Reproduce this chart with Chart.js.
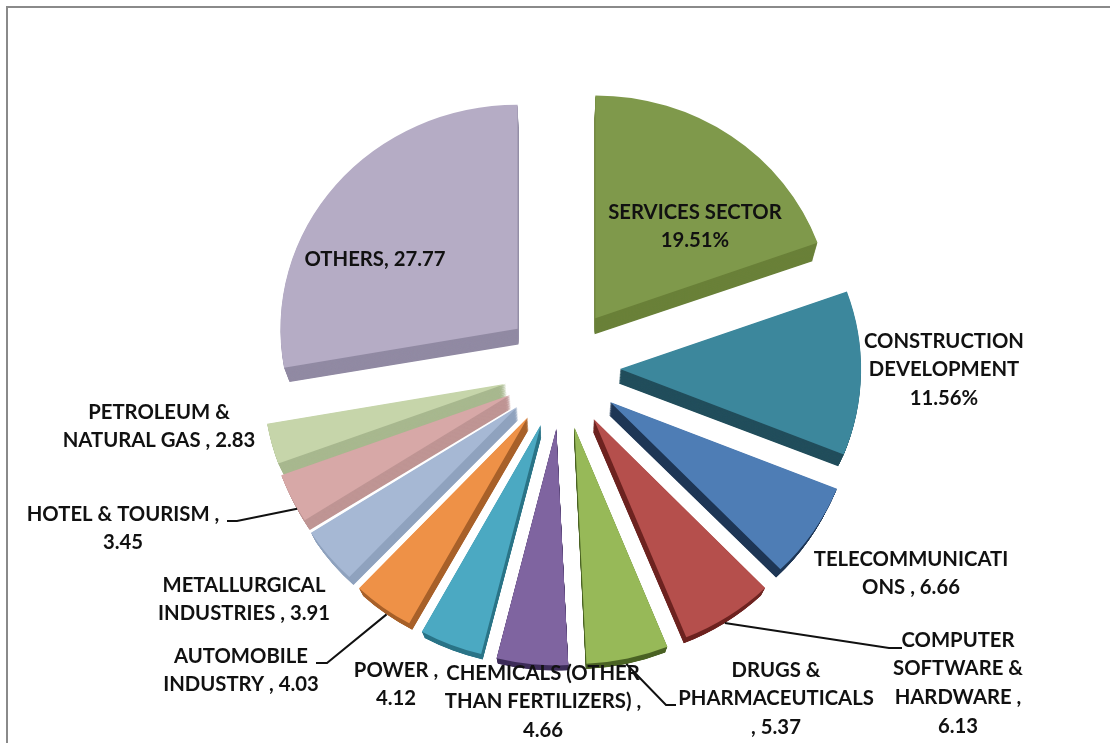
<!DOCTYPE html>
<html>
<head>
  <title>FDI sector shares</title>
  <script src="https://cdnjs.cloudflare.com/ajax/libs/Chart.js/4.4.0/chart.umd.js"></script>
  <style>
    body { margin: 0; background: #fff; overflow: hidden; }
    #frame { position: absolute; left: 6px; top: 6px; width: 1200px; height: 900px; border-left: 2px solid #8a8a8a; border-top: 2px solid #8a8a8a; }
    canvas { position: absolute; left: 0; top: 0; }
  </style>
</head>
<body>
  <div id="frame"></div>
  <canvas id="pie" width="1110" height="743"></canvas>
  <script>
    var sectors = ['SERVICES SECTOR', 'CONSTRUCTION DEVELOPMENT', 'TELECOMMUNICATIONS', 'COMPUTER SOFTWARE & HARDWARE',
      'DRUGS & PHARMACEUTICALS', 'CHEMICALS (OTHER THAN FERTILIZERS)', 'POWER', 'AUTOMOBILE INDUSTRY',
      'METALLURGICAL INDUSTRIES', 'HOTEL & TOURISM', 'PETROLEUM & NATURAL GAS', 'OTHERS'];
    var shares = [19.51, 11.56, 6.66, 6.13, 5.37, 4.66, 4.12, 4.03, 3.91, 3.45, 2.83, 27.77];
    var faceColors = ['#7f994b', '#3c879c', '#4e7db5', '#b54f4c', '#97b958', '#7f64a0', '#4ba9c2', '#ee9147', '#a6b8d4', '#d7a8a7', '#c6d5aa', '#b5acc5'];
    var sideColors = ['#6a8039', '#224e5c', '#1e3655', '#6e2421', '#4c6426', '#3e2e5a', '#2c7588', '#a8612a', '#8fa2be', '#bf9594', '#a8b88f', '#918aa3'];
    var labelLines = [
      ['SERVICES SECTOR', '19.51%'],
      ['CONSTRUCTION', 'DEVELOPMENT', '11.56%'],
      ['TELECOMMUNICATI', 'ONS , 6.66'],
      ['COMPUTER', 'SOFTWARE &', 'HARDWARE ,', '6.13'],
      ['DRUGS &', 'PHARMACEUTICALS', ', 5.37'],
      ['CHEMICALS (OTHER', 'THAN FERTILIZERS) ,', '4.66'],
      ['POWER ,', '4.12'],
      ['AUTOMOBILE', 'INDUSTRY , 4.03'],
      ['METALLURGICAL', 'INDUSTRIES , 3.91'],
      ['HOTEL & TOURISM ,', '3.45'],
      ['PETROLEUM &', 'NATURAL GAS , 2.83'],
      ['OTHERS, 27.77']
    ];
    // label block: centre x, middle y of first line
    var labelPos = [[695, 212], [944, 341], [911, 559], [958, 640], [776, 670], [543, 673], [396, 670], [241, 656], [244, 585], [123, 514], [159, 412], [375, 259]];
    // leader lines: slice index, then the elbow and the end beside the label
    var leaders = [
      { slice: 3, pts: [[889, 648], [902, 648]] },
      { slice: 4, pts: [[666, 705], [676, 705]] },
      { slice: 7, pts: [[327, 663], [316, 663]] },
      { slice: 9, pts: [[237, 521], [227, 521]] }
    ];

    var explode = 58, explodeY = 1.05, depthX = 0.02, depthY = 0.031, vanishX = 560, vanishY = 833;

    function midAngle(arc) { return (arc.startAngle + arc.endAngle) / 2; }

    // top of the pie is further away, so it gets squashed a bit more
    function placeSlice(ctx, arc, t) {
      var mid = midAngle(arc);
      var kx = (241 + 6 * Math.sin(mid)) / 238;
      var ky = 0.9625 + 0.0325 * Math.sin(mid);
      ctx.translate(vanishX, vanishY);
      ctx.scale(1 - depthX * t, 1 - depthY * t);
      ctx.translate(-vanishX, -vanishY);
      ctx.translate(arc.x + Math.cos(mid) * explode, arc.y + Math.sin(mid) * explode * explodeY);
      ctx.scale(kx, ky);
      ctx.translate(-arc.x, -arc.y);
    }

    var pie3d = {
      id: 'pie3d',
      beforeDatasetDraw: function(chart, args) {
        var ctx = chart.ctx;
        var arcs = chart.getDatasetMeta(args.index).data.slice();
        arcs.sort(function(a, b) { return Math.sin(midAngle(a)) - Math.sin(midAngle(b)); });
        arcs.forEach(function(arc) {
          var i = chart.getDatasetMeta(args.index).data.indexOf(arc);
          var saved = arc.options;
          arc.options = Object.assign({}, saved, { backgroundColor: sideColors[i], borderWidth: 0 });
          for (var n = 24; n > 0; n--) {
            ctx.save();
            placeSlice(ctx, arc, n / 24);
            arc.draw(ctx);
            ctx.restore();
          }
          arc.options = saved;
          ctx.save();
          placeSlice(ctx, arc, 0);
          arc.draw(ctx);
          ctx.restore();
        });
        return false;
      },
      afterDatasetsDraw: function(chart) {
        var ctx = chart.ctx;
        var arcs = chart.getDatasetMeta(0).data;
        ctx.save();
        ctx.strokeStyle = '#111';
        ctx.lineWidth = 2;
        leaders.forEach(function(l) {
          var arc = arcs[l.slice];
          var mid = midAngle(arc);
          ctx.save();
          placeSlice(ctx, arc, 1);
          var m = ctx.getTransform();
          ctx.restore();
          var dpr = chart.currentDevicePixelRatio;
          var p = new DOMPoint(arc.x + Math.cos(mid) * arc.outerRadius, arc.y + Math.sin(mid) * arc.outerRadius).matrixTransform(m);
          ctx.beginPath();
          ctx.moveTo(p.x / dpr, p.y / dpr);
          l.pts.forEach(function(q) { ctx.lineTo(q[0], q[1]); });
          ctx.stroke();
        });
        ctx.fillStyle = '#111';
        ctx.font = 'bold 20.3px Lato';
        ctx.textAlign = 'center';
        ctx.textBaseline = 'middle';
        labelLines.forEach(function(lines, i) {
          lines.forEach(function(line, j) {
            ctx.fillText(line, labelPos[i][0], labelPos[i][1] + j * 28.7);
          });
        });
        ctx.restore();
      }
    };

    new Chart(document.getElementById('pie'), {
      type: 'pie',
      data: {
        labels: sectors,
        datasets: [{ data: shares, backgroundColor: faceColors, borderWidth: 0 }]
      },
      options: {
        responsive: false,
        animation: false,
        radius: 238,
        layout: { padding: { left: 14, bottom: 7 } },
        plugins: { legend: { display: false }, tooltip: { enabled: false } }
      },
      plugins: [pie3d]
    });
  </script>
</body>
</html>
